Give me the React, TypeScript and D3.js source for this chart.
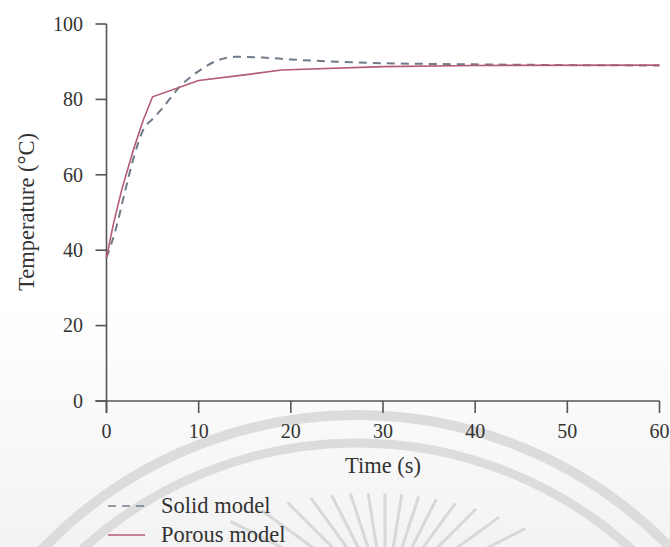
import React from 'react';
import * as d3 from 'd3';

// ---- data ----
const solidTime = [0, 1, 2, 3, 4, 5, 6, 8, 10, 12, 14, 17, 20, 25, 30, 40, 50, 60];
const solidTemp = [38, 45.5, 55.5, 65, 72, 74.8, 77.5, 83.5, 87.5, 90.3, 91.3, 91.1, 90.6, 90, 89.6, 89.3, 89.1, 89];
const porousTime = [0, 0.75, 1.65, 2.9, 4, 5, 10, 15, 19, 30, 40, 60];
const porousTemp = [38, 47, 56, 66.5, 74.6, 80.7, 85, 86.5, 87.8, 88.7, 89, 89.1];
const xTicks = [0, 10, 20, 30, 40, 50, 60];
const yTicks = [0, 20, 40, 60, 80, 100];
const seriesNames = ['Solid model', 'Porous model'];
const xTitle = 'Time (s)';
const yTitle = 'Temperature (\u00B0C)';

const FONT = '"Liberation Serif", "Times New Roman", serif';
const TEXT = '#333';
const AXIS = '#555';
const SOLID_C = '#6f7b8a';
const POROUS_C = '#b35a78';

export default function App() {
  const W = 670, H = 547;
  const x = d3.scaleLinear().domain([0, 60]).range([106.5, 659.5]);
  const y = d3.scaleLinear().domain([0, 100]).range([401, 24]);

  const solidData = solidTime.map((t, i) => [t, solidTemp[i]] as [number, number]);
  const porousData = porousTime.map((t, i) => [t, porousTemp[i]] as [number, number]);

  const solidLine = d3.line<[number, number]>().x(d => x(d[0])).y(d => y(d[1])).curve(d3.curveMonotoneX);
  const porousLine = d3.line<[number, number]>().x(d => x(d[0])).y(d => y(d[1])).curve(d3.curveLinear);

  // watermark (decorative seal in the scanned page background)
  const seal = { cx: 357, cy: 851 };
  const rayC = { cx: 385, cy: 600 };
  const rayBound = { cx: 370, cy: 851, r: 358 };
  const rayAngles = d3.range(-63, 64, 9);
  const rays = rayAngles.map(a => {
    const rad = (a * Math.PI) / 180;
    const dx = Math.sin(rad), dy = -Math.cos(rad);
    // intersect ray with bounding circle
    const ox = rayC.cx - rayBound.cx, oy = rayC.cy - rayBound.cy;
    const b = 2 * (ox * dx + oy * dy);
    const c = ox * ox + oy * oy - rayBound.r * rayBound.r;
    const disc = b * b - 4 * c;
    const t1 = (-b + Math.sqrt(Math.max(disc, 0))) / 2;
    const tEnd = Math.max(t1, 60);
    const t0 = 45;
    return {
      x1: rayC.cx + dx * t0, y1: rayC.cy + dy * t0,
      x2: rayC.cx + dx * tEnd, y2: rayC.cy + dy * tEnd,
    };
  });

  return (
    <svg width={W} height={H} style={{ position: 'absolute', left: 0, top: 0, background: '#fff' }}>
      <defs>
        <linearGradient id="bg" x1="0" y1="0" x2="0" y2="1">
          <stop offset="0" stopColor="#ffffff" />
          <stop offset="0.55" stopColor="#ffffff" />
          <stop offset="1" stopColor="#f3f3f3" />
        </linearGradient>
      </defs>
      <rect x={0} y={0} width={W} height={H} fill="url(#bg)" />
      <g stroke="#dcdcdc" fill="none">
        <circle cx={seal.cx} cy={seal.cy} r={436} strokeWidth={10} />
        <circle cx={seal.cx} cy={seal.cy} r={408} strokeWidth={9} />
        {rays.map((r, i) => (
          <line key={i} x1={r.x1} y1={r.y1} x2={r.x2} y2={r.y2} strokeWidth={3} stroke="#d8d8d8" />
        ))}
      </g>

      {/* axes */}
      <g stroke={AXIS} strokeWidth={1.6} fill="none">
        <line x1={x(0)} y1={y(100)} x2={x(0)} y2={y(0) + 12} />
        <line x1={x(0) - 11} y1={y(0)} x2={x(60)} y2={y(0)} />
        {yTicks.map(t => (
          <line key={'yt' + t} x1={x(0) - 11} x2={x(0)} y1={y(t)} y2={y(t)} />
        ))}
        {xTicks.map(t => (
          <line key={'xt' + t} x1={x(t)} x2={x(t)} y1={y(0)} y2={y(0) + 12} />
        ))}
      </g>
      <g fontFamily={FONT} fill={TEXT} fontSize={20}>
        {yTicks.map(t => (
          <text key={'yl' + t} x={83} y={y(t)} dy="0.34em" textAnchor="end">{t}</text>
        ))}
        {xTicks.map(t => (
          <text key={'xl' + t} x={x(t)} y={438} textAnchor="middle">{t}</text>
        ))}
      </g>
      <text x={383} y={473} textAnchor="middle" fontFamily={FONT} fontSize={22.5} fill={TEXT}>{xTitle}</text>
      <text transform="translate(34,212) rotate(-90)" textAnchor="middle" fontFamily={FONT} fontSize={22.5} fill={TEXT}>{yTitle}</text>

      {/* series */}
      <path d={solidLine(solidData) || ''} fill="none" stroke={SOLID_C} strokeWidth={2} strokeDasharray="8,6" />
      <path d={porousLine(porousData) || ''} fill="none" stroke={POROUS_C} strokeWidth={1.6} />

      {/* legend */}
      <g fontFamily={FONT} fontSize={22.5} fill={TEXT}>
        <line x1={108} x2={145} y1={506} y2={506} stroke={SOLID_C} strokeWidth={1.6} strokeDasharray="8,6" />
        <text x={161} y={513}>{seriesNames[0]}</text>
        <line x1={108} x2={145} y1={535} y2={535} stroke={POROUS_C} strokeWidth={1.6} />
        <text x={161} y={542}>{seriesNames[1]}</text>
      </g>
    </svg>
  );
}
